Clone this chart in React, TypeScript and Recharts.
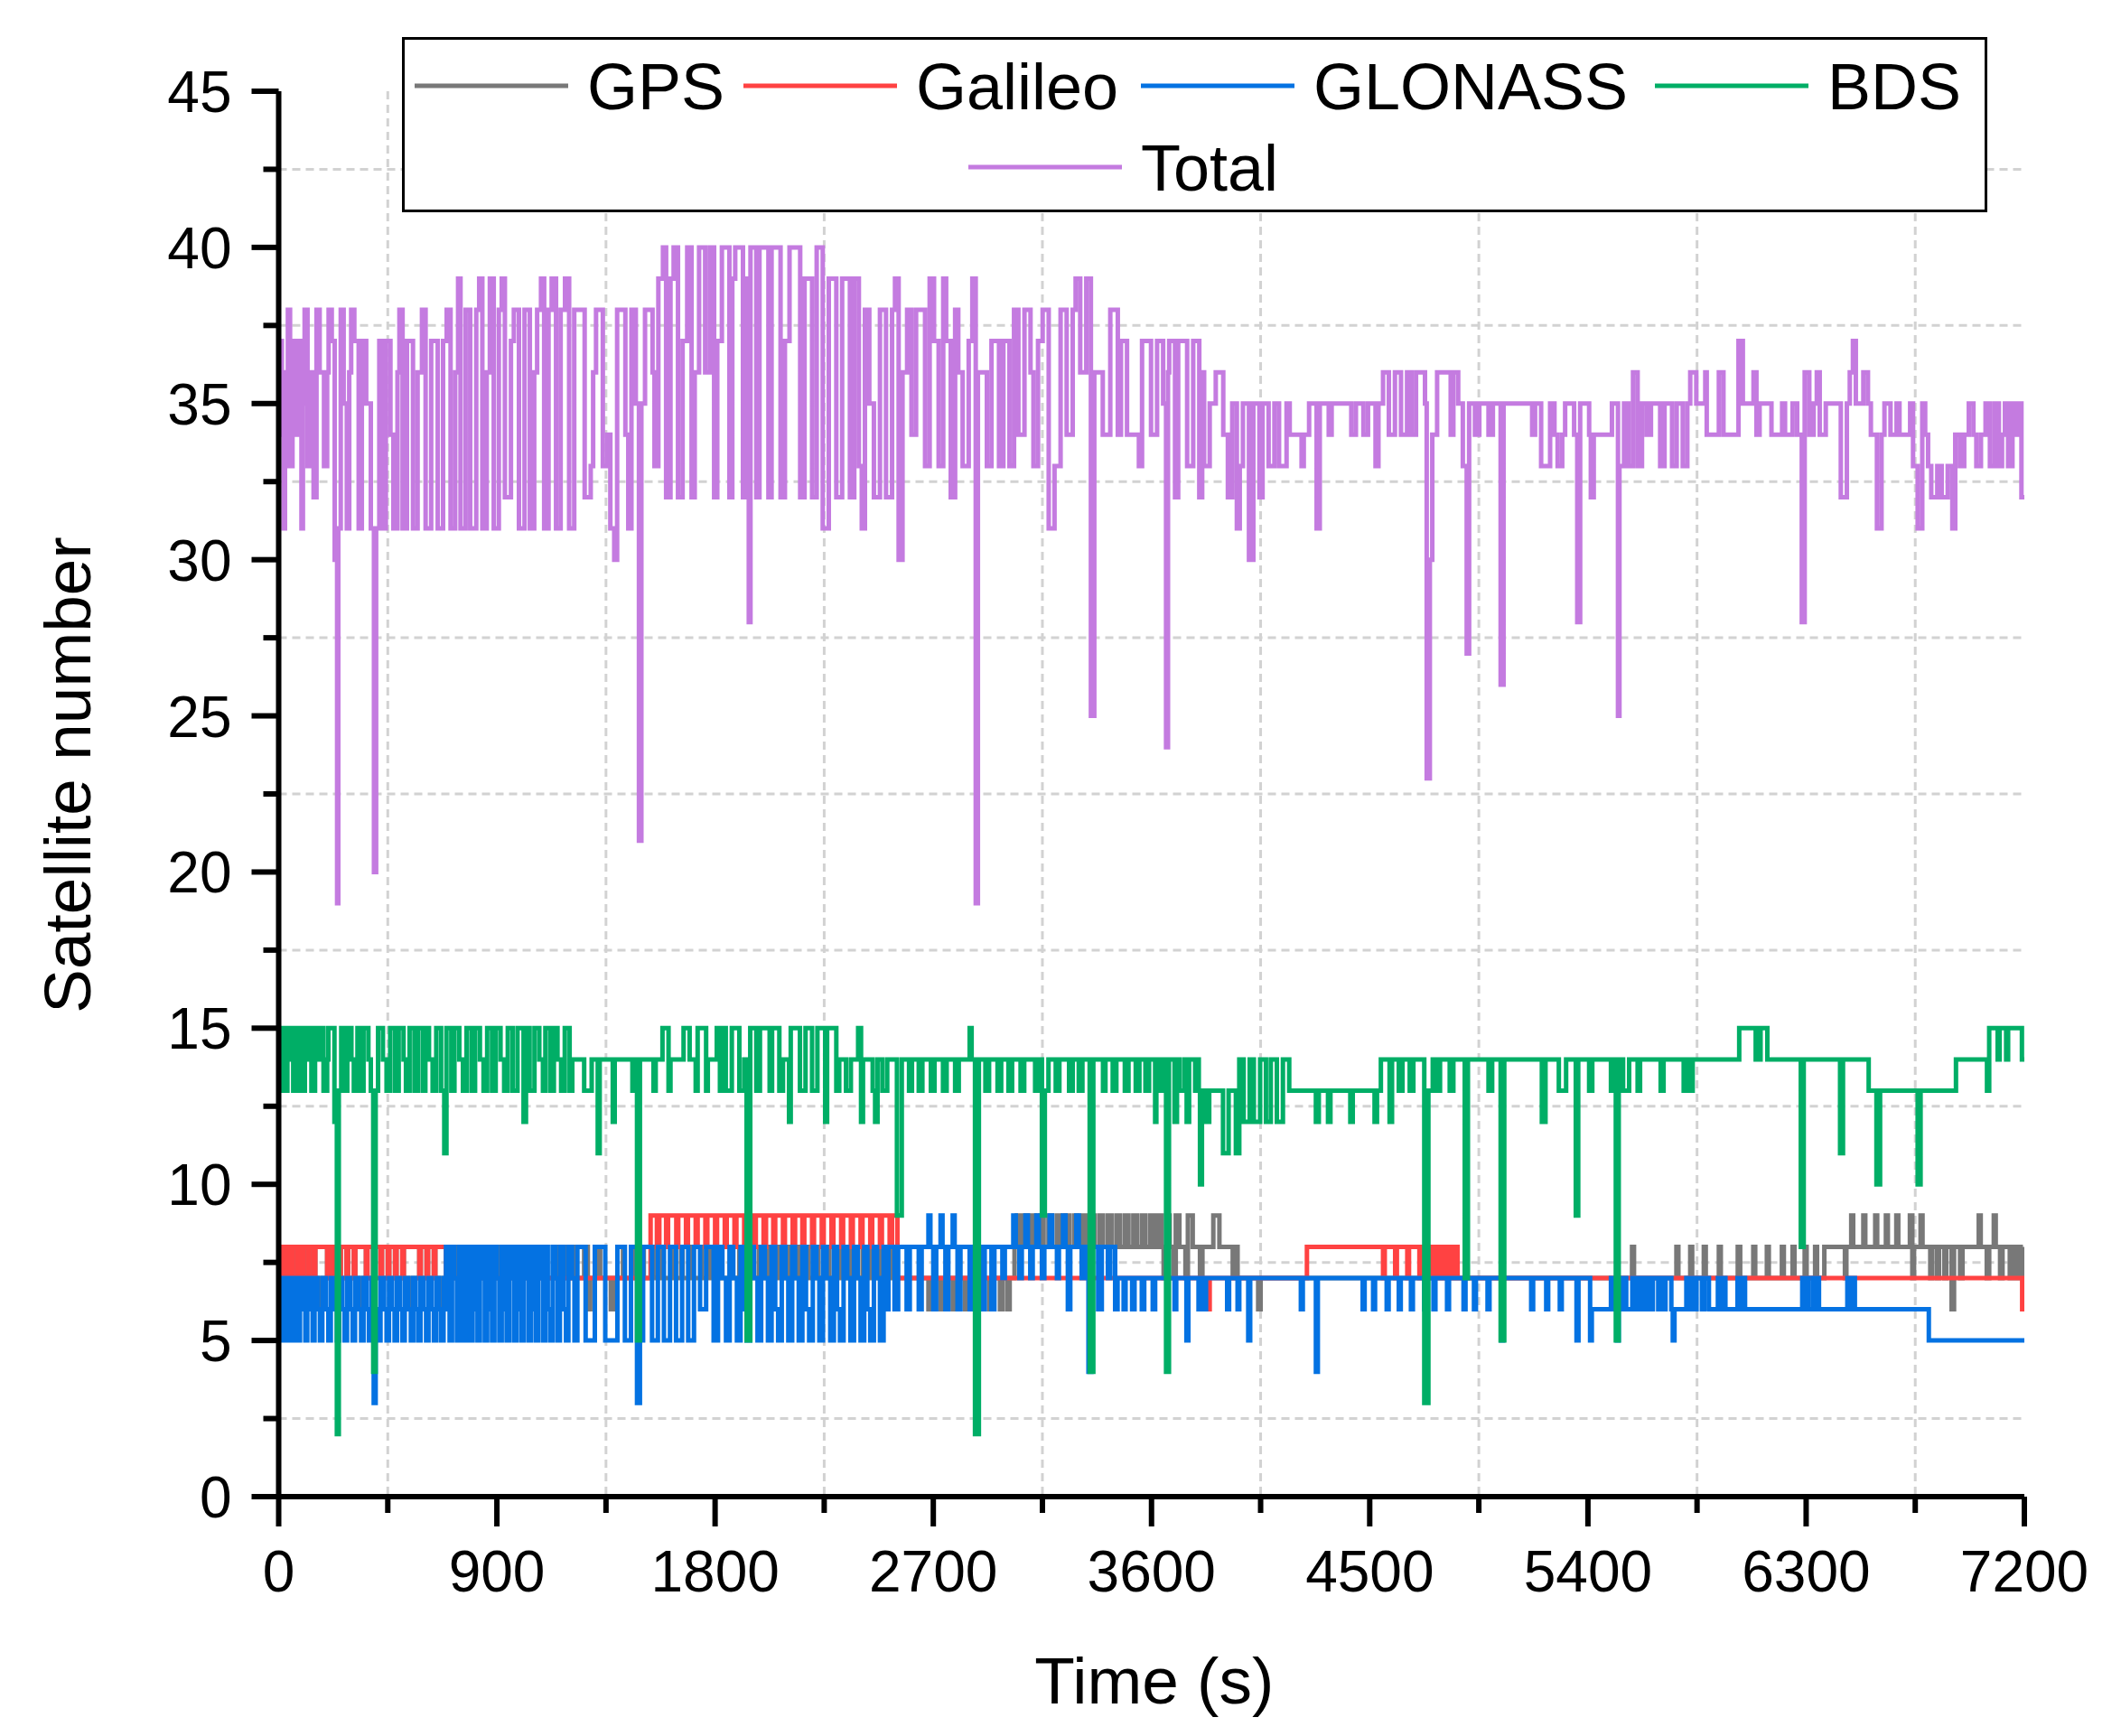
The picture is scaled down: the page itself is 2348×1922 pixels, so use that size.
import React from 'react';
import {
  LineChart,
  Line,
  XAxis,
  YAxis,
  CartesianGrid,
  Legend,
} from 'recharts';

const FONT = '"Liberation Sans", Arial, Helvetica, sans-serif';

const majorXTicks = [0, 900, 1800, 2700, 3600, 4500, 5400, 6300, 7200];
const minorXTicks = [450, 1350, 2250, 3150, 4050, 4950, 5850, 6750];
const majorYTicks = [0, 5, 10, 15, 20, 25, 30, 35, 40, 45];
const minorYTicks = [2.5, 7.5, 12.5, 17.5, 22.5, 27.5, 32.5, 37.5, 42.5];

// [time (s), satellites] change points
const gps: [number, number][] = [
  [0, 7], [10, 8], [16, 7], [30, 8], [36, 7], [50, 8], [56, 7], [75, 8], [81, 7], [95, 8], [101, 7],
  [120, 8], [126, 7], [145, 8], [151, 7], [175, 6], [182, 7], [200, 8], [206, 7], [225, 8], [231, 7],
  [250, 8], [256, 7], [280, 8], [286, 7], [310, 8], [316, 7], [335, 6], [342, 7], [360, 8], [366, 7],
  [390, 8], [396, 7], [420, 8], [426, 7], [450, 8], [456, 7], [480, 8], [486, 7], [510, 8], [516, 7],
  [550, 6], [558, 7], [580, 8], [586, 7], [610, 8], [616, 7], [640, 8], [646, 7], [665, 6], [672, 7],
  [700, 8], [706, 7], [740, 8], [746, 7], [780, 8], [786, 7], [820, 8], [826, 7], [860, 8], [866, 7],
  [900, 8], [906, 7], [940, 8], [946, 7], [980, 8], [986, 7], [1020, 8], [1026, 7], [1060, 8], [1066, 7],
  [1100, 8], [1106, 7], [1140, 8], [1146, 7], [1180, 8], [1186, 7], [1220, 8], [1226, 7], [1260, 8],
  [1275, 6], [1285, 7], [1320, 8], [1326, 7], [1370, 6], [1380, 7], [1420, 8], [1426, 7], [1460, 8],
  [1466, 7], [1500, 8], [1506, 7], [1540, 8], [1546, 7], [1580, 8], [1586, 7], [1620, 8], [1626, 7],
  [1660, 8], [1666, 7], [1700, 8], [1706, 7], [1740, 8], [1746, 7], [1780, 8], [1786, 7], [1820, 8],
  [1826, 7], [1860, 8], [1866, 7], [1900, 8], [1906, 7], [1940, 8], [1946, 7], [1980, 8], [1986, 7],
  [2020, 8], [2026, 7], [2060, 8], [2066, 7], [2100, 8], [2106, 7], [2140, 8], [2146, 7], [2180, 8],
  [2186, 7], [2220, 8], [2226, 7], [2260, 8], [2270, 7], [2290, 8], [2300, 7], [2320, 8], [2330, 7],
  [2350, 8], [2360, 7], [2380, 8], [2390, 7], [2410, 8], [2420, 7], [2440, 8], [2450, 7], [2470, 8],
  [2480, 7], [2500, 8], [2510, 7], [2530, 8], [2540, 7], [2680, 6], [2690, 7], [2730, 6], [2740, 7],
  [2780, 6], [2790, 7], [2830, 6], [2838, 7], [2880, 6], [2888, 7], [2930, 6], [2938, 7], [2975, 6],
  [2985, 7], [3005, 6], [3015, 7], [3035, 8], [3045, 9], [3060, 8], [3075, 9], [3090, 8], [3105, 9],
  [3120, 8], [3140, 9], [3155, 8], [3175, 9], [3190, 8], [3210, 9], [3225, 8], [3245, 9], [3260, 8],
  [3280, 9], [3295, 8], [3315, 9], [3330, 8], [3350, 9], [3365, 8], [3385, 9], [3400, 8], [3420, 9],
  [3435, 8], [3455, 9], [3470, 8], [3490, 9], [3505, 8], [3525, 9], [3540, 8], [3560, 9], [3575, 8],
  [3595, 9], [3610, 8], [3625, 9], [3640, 8], [3650, 7], [3660, 9], [3675, 8], [3690, 7], [3700, 9],
  [3715, 8], [3740, 7], [3750, 9], [3770, 8], [3800, 7], [3810, 8], [3855, 9], [3880, 8], [3935, 7],
  [3945, 8], [3955, 7], [4040, 6], [4050, 7], [5582, 8], [5590, 7], [5765, 8], [5773, 7], [5822, 8],
  [5830, 7], [5878, 8], [5886, 7], [5940, 8], [5948, 7], [6018, 8], [6028, 7], [6082, 8], [6090, 7],
  [6138, 8], [6146, 7], [6200, 8], [6208, 7], [6244, 8], [6252, 7], [6294, 8], [6302, 7], [6337, 8],
  [6345, 7], [6375, 8], [6460, 7], [6466, 8], [6486, 9], [6494, 8], [6536, 9], [6544, 8], [6585, 9],
  [6593, 8], [6629, 9], [6637, 8], [6672, 9], [6680, 8], [6728, 9], [6738, 7], [6745, 8], [6772, 9],
  [6780, 8], [6812, 7], [6820, 8], [6840, 7], [6848, 8], [6870, 7], [6878, 8], [6900, 6], [6910, 8],
  [6935, 7], [6945, 8], [7012, 9], [7020, 8], [7045, 7], [7055, 8], [7074, 9], [7082, 8], [7100, 7],
  [7110, 8], [7140, 7], [7148, 8], [7160, 7], [7170, 8], [7185, 7], [7200, 8],
];

const galileo: [number, number][] = [
  [0, 8], [10, 7], [16, 8], [30, 7], [36, 8], [50, 7], [56, 8], [75, 7], [81, 8], [95, 7], [101, 8],
  [120, 7], [126, 8], [145, 7], [151, 8], [200, 7], [206, 8], [225, 7], [231, 8], [250, 7], [256, 8],
  [280, 7], [286, 8], [310, 7], [316, 8], [360, 7], [366, 8], [390, 7], [396, 8], [420, 7], [426, 8],
  [450, 7], [456, 8], [480, 7], [486, 8], [510, 7], [516, 8], [580, 7], [586, 8], [610, 7], [616, 8],
  [640, 7], [646, 8], [690, 7], [1534, 9], [1560, 8], [1570, 9], [1598, 8], [1606, 9], [1640, 8],
  [1648, 9], [1680, 8], [1688, 9], [1720, 8], [1728, 9], [1760, 8], [1768, 9], [1800, 8], [1808, 9],
  [1840, 8], [1848, 9], [1880, 8], [1888, 9], [1920, 8], [1928, 9], [1960, 8], [1968, 9], [2000, 8],
  [2010, 9], [2040, 8], [2048, 9], [2080, 8], [2088, 9], [2120, 8], [2130, 9], [2160, 8], [2168, 9],
  [2200, 8], [2208, 9], [2240, 8], [2248, 9], [2280, 8], [2288, 9], [2320, 8], [2328, 9], [2360, 8],
  [2368, 9], [2400, 8], [2408, 9], [2440, 8], [2448, 9], [2480, 8], [2488, 9], [2520, 8], [2530, 9],
  [2552, 7], [3830, 6], [3840, 7], [4241, 8], [4555, 7], [4562, 8], [4605, 7], [4612, 8], [4655, 7],
  [4662, 8], [4705, 7], [4712, 8], [4740, 7], [4748, 8], [4765, 7], [4772, 8], [4790, 7], [4798, 8],
  [4815, 7], [4822, 8], [4840, 7], [4848, 8], [4862, 7], [7191, 6], [7200, 6],
];

const glonass: [number, number][] = [
  [0, 6], [8, 7], [15, 5], [22, 7], [30, 6], [38, 5], [45, 7], [55, 5], [62, 7], [70, 6], [80, 5],
  [88, 7], [100, 6], [110, 5], [118, 7], [130, 6], [140, 5], [148, 7], [160, 6], [170, 5], [180, 7],
  [195, 6], [205, 5], [215, 7], [228, 6], [240, 5], [250, 7], [262, 6], [272, 5], [282, 7], [295, 6],
  [305, 5], [315, 7], [330, 6], [340, 5], [350, 7], [362, 6], [372, 5], [382, 7], [392, 3], [400, 6],
  [410, 5], [420, 7], [435, 6], [445, 5], [455, 7], [468, 6], [478, 5], [488, 7], [500, 6], [510, 5],
  [520, 7], [535, 6], [545, 5], [555, 7], [565, 6], [575, 5], [585, 7], [598, 6], [608, 5], [618, 7],
  [630, 6], [640, 5], [650, 7], [660, 6], [670, 5], [680, 7], [690, 8], [698, 6], [705, 5], [715, 8],
  [725, 7], [735, 5], [745, 8], [755, 6], [762, 5], [772, 8], [782, 7], [790, 5], [800, 8], [812, 6],
  [820, 5], [830, 8], [842, 7], [850, 5], [860, 8], [872, 6], [880, 5], [890, 8], [900, 7], [910, 5],
  [920, 8], [932, 6], [940, 5], [950, 8], [962, 7], [970, 5], [980, 8], [992, 6], [1000, 5], [1010, 8],
  [1022, 7], [1030, 5], [1040, 8], [1052, 6], [1060, 5], [1070, 8], [1082, 7], [1090, 5], [1100, 8],
  [1110, 6], [1120, 5], [1130, 8], [1140, 7], [1150, 5], [1160, 8], [1175, 6], [1185, 5], [1195, 8],
  [1210, 7], [1220, 5], [1232, 8], [1266, 5], [1304, 8], [1347, 5], [1397, 8], [1428, 5], [1453, 8],
  [1478, 3], [1490, 5], [1503, 8], [1540, 5], [1564, 8], [1589, 5], [1614, 8], [1639, 5], [1664, 8],
  [1689, 5], [1713, 8], [1738, 6], [1763, 8], [1794, 5], [1812, 8], [1830, 7], [1845, 5], [1860, 8],
  [1875, 7], [1890, 5], [1905, 8], [1918, 6], [1930, 5], [1945, 8], [1960, 7], [1975, 5], [1990, 8],
  [2005, 7], [2018, 5], [2033, 8], [2048, 6], [2060, 5], [2075, 8], [2090, 7], [2102, 5], [2118, 8],
  [2130, 7], [2145, 5], [2160, 8], [2175, 6], [2188, 5], [2203, 8], [2218, 7], [2230, 5], [2245, 8],
  [2260, 7], [2275, 5], [2290, 8], [2303, 6], [2315, 5], [2330, 8], [2345, 7], [2358, 5], [2373, 8],
  [2388, 7], [2400, 5], [2415, 8], [2428, 6], [2440, 5], [2455, 8], [2468, 7], [2480, 5], [2495, 8],
  [2508, 6], [2515, 8], [2540, 6], [2555, 8], [2590, 6], [2603, 8], [2640, 6], [2652, 8], [2680, 9],
  [2688, 8], [2700, 6], [2712, 8], [2730, 9], [2738, 8], [2750, 6], [2762, 8], [2780, 9], [2788, 8],
  [2800, 6], [2812, 8], [2850, 6], [2862, 8], [2900, 6], [2912, 8], [2940, 6], [2952, 8], [2985, 7],
  [2995, 8], [3030, 9], [3040, 8], [3055, 7], [3065, 8], [3080, 9], [3090, 8], [3100, 7], [3110, 8],
  [3125, 9], [3135, 8], [3148, 7], [3158, 8], [3180, 9], [3190, 8], [3210, 7], [3218, 8], [3235, 9],
  [3245, 8], [3255, 6], [3265, 8], [3290, 9], [3300, 8], [3312, 7], [3322, 8], [3340, 4], [3352, 8],
  [3380, 6], [3395, 8], [3420, 7], [3430, 8], [3450, 6], [3460, 7], [3485, 6], [3493, 7], [3520, 6],
  [3530, 7], [3560, 6], [3570, 7], [3605, 6], [3615, 7], [3695, 6], [3702, 7], [3744, 5], [3752, 7],
  [3794, 6], [3800, 7], [3806, 6], [3812, 7], [3818, 6], [3825, 7], [3912, 6], [3920, 7], [3955, 6],
  [3962, 7], [3999, 5], [4007, 7], [4216, 6], [4224, 7], [4278, 4], [4286, 7], [4471, 6], [4479, 7],
  [4514, 6], [4522, 7], [4570, 6], [4578, 7], [4620, 6], [4628, 7], [4670, 6], [4678, 7], [4725, 6],
  [4733, 7], [4763, 6], [4771, 7], [4819, 6], [4827, 7], [4887, 6], [4895, 7], [4930, 6], [4938, 7],
  [4986, 6], [4994, 7], [5042, 5], [5050, 7], [5166, 6], [5174, 7], [5228, 6], [5236, 7], [5284, 6],
  [5292, 7], [5353, 5], [5361, 7], [5409, 5], [5416, 6], [5495, 7], [5503, 6], [5510, 7], [5520, 5],
  [5527, 7], [5540, 6], [5548, 7], [5558, 6], [5583, 7], [5590, 6], [5598, 7], [5610, 6], [5620, 7],
  [5635, 6], [5645, 7], [5660, 6], [5668, 7], [5690, 6], [5700, 7], [5712, 6], [5720, 7], [5744, 6],
  [5750, 5], [5757, 6], [5806, 7], [5815, 6], [5825, 7], [5840, 6], [5848, 7], [5870, 6], [5880, 7],
  [5899, 6], [5936, 7], [5948, 6], [5955, 7], [5967, 6], [6017, 7], [6030, 6], [6036, 7], [6048, 6],
  [6284, 7], [6292, 6], [6300, 7], [6309, 6], [6328, 7], [6340, 6], [6346, 7], [6353, 6], [6470, 7],
  [6480, 6], [6490, 7], [6501, 6], [6806, 5], [7200, 5],
];

const bds: [number, number][] = [
  [0, 14], [8, 15], [14, 13], [20, 15], [28, 13], [36, 15], [44, 14], [52, 15], [60, 13], [68, 15],
  [76, 14], [84, 13], [92, 15], [100, 13], [108, 15], [118, 14], [126, 15], [135, 13], [150, 15],
  [160, 14], [175, 15], [185, 13], [200, 14], [205, 15], [230, 12], [240, 2], [248, 13], [258, 15],
  [268, 13], [283, 15], [300, 14], [310, 13], [325, 15], [340, 13], [350, 15], [370, 14], [380, 13],
  [390, 4], [400, 13], [410, 15], [430, 14], [445, 13], [460, 15], [480, 13], [495, 15], [515, 14],
  [525, 13], [540, 15], [560, 13], [575, 15], [595, 13], [605, 15], [620, 14], [635, 13], [650, 15],
  [670, 13], [683, 11], [692, 15], [712, 13], [725, 15], [745, 14], [760, 13], [775, 15], [795, 13],
  [810, 15], [830, 14], [845, 13], [860, 15], [880, 13], [895, 15], [915, 14], [930, 13], [945, 15],
  [965, 13], [985, 15], [1010, 12], [1020, 15], [1035, 13], [1055, 15], [1075, 14], [1090, 13],
  [1100, 15], [1120, 13], [1135, 15], [1150, 14], [1165, 13], [1180, 15], [1200, 13], [1211, 14],
  [1260, 13], [1291, 14], [1316, 11], [1324, 14], [1378, 12], [1386, 14], [1459, 13], [1466, 14],
  [1478, 5], [1490, 14], [1546, 13], [1555, 14], [1583, 15], [1608, 13], [1616, 14], [1670, 15],
  [1695, 14], [1720, 13], [1728, 15], [1763, 13], [1770, 14], [1807, 15], [1820, 13], [1831, 15],
  [1844, 13], [1869, 15], [1900, 13], [1920, 14], [1930, 5], [1945, 15], [1970, 13], [1985, 15],
  [2025, 13], [2035, 15], [2065, 13], [2080, 14], [2105, 12], [2112, 15], [2150, 13], [2173, 15],
  [2200, 13], [2222, 15], [2254, 12], [2262, 15], [2300, 13], [2312, 14], [2340, 13], [2360, 14],
  [2390, 15], [2402, 12], [2410, 14], [2450, 13], [2460, 12], [2470, 14], [2490, 13], [2510, 14],
  [2550, 9], [2570, 14], [2600, 13], [2612, 14], [2640, 13], [2655, 14], [2690, 13], [2705, 14],
  [2740, 13], [2755, 14], [2790, 13], [2805, 14], [2850, 15], [2858, 14], [2872, 2], [2888, 14],
  [2915, 13], [2930, 14], [2965, 13], [2980, 14], [3010, 13], [3025, 14], [3060, 13], [3075, 14],
  [3120, 13], [3135, 14], [3148, 9], [3160, 13], [3175, 14], [3205, 13], [3220, 14], [3260, 13],
  [3275, 14], [3300, 13], [3315, 14], [3345, 4], [3360, 14], [3400, 13], [3410, 14], [3440, 13],
  [3455, 14], [3490, 13], [3505, 14], [3535, 13], [3550, 14], [3575, 13], [3590, 14], [3615, 12],
  [3620, 14], [3632, 13], [3645, 14], [3660, 4], [3672, 14], [3695, 12], [3705, 14], [3715, 13],
  [3735, 14], [3745, 12], [3755, 14], [3780, 13], [3790, 14], [3795, 13], [3800, 10], [3808, 13],
  [3825, 12], [3838, 13], [3895, 11], [3918, 13], [3948, 11], [3962, 14], [3980, 12], [4005, 14],
  [4022, 12], [4048, 14], [4072, 12], [4092, 14], [4117, 12], [4142, 14], [4168, 13], [4278, 12],
  [4290, 13], [4328, 12], [4338, 13], [4420, 12], [4430, 13], [4520, 12], [4530, 13], [4546, 14],
  [4582, 12], [4592, 14], [4620, 13], [4635, 14], [4665, 13], [4680, 14], [4725, 3], [4742, 13],
  [4760, 14], [4775, 13], [4790, 14], [4830, 13], [4845, 14], [4892, 7], [4905, 14], [4990, 13],
  [5005, 14], [5040, 5], [5055, 14], [5210, 12], [5225, 14], [5280, 13], [5310, 14], [5350, 9],
  [5360, 14], [5405, 13], [5418, 14], [5495, 13], [5505, 14], [5515, 5], [5527, 14], [5545, 13],
  [5570, 14], [5605, 13], [5615, 14], [5700, 13], [5712, 14], [5795, 13], [5808, 14], [5820, 13],
  [5832, 14], [6024, 15], [6092, 14], [6095, 15], [6100, 14], [6112, 15], [6140, 14], [6278, 8],
  [6290, 14], [6440, 11], [6452, 14], [6558, 13], [6590, 10], [6605, 13], [6760, 10], [6772, 13],
  [6918, 14], [7046, 13], [7055, 15], [7090, 14], [7098, 15], [7125, 14], [7133, 15], [7190, 14],
  [7200, 14],
];

const total: [number, number][] = [
  [0, 35], [7, 37], [13, 34], [20, 31], [26, 36], [32, 33], [38, 38], [47, 33], [57, 37], [70, 34],
  [82, 37], [94, 31], [100, 35], [107, 38], [119, 33], [132, 36], [144, 32], [156, 38], [169, 36],
  [187, 33], [200, 36], [206, 38], [219, 37], [231, 30], [241, 19], [246, 31], [256, 38], [268, 35],
  [281, 31], [291, 36], [299, 38], [312, 37], [330, 31], [343, 37], [361, 35], [380, 31], [393, 20],
  [402, 31], [415, 37], [427, 31], [442, 37], [461, 34], [473, 31], [490, 36], [498, 38], [511, 31],
  [529, 37], [554, 31], [573, 36], [591, 38], [606, 31], [629, 37], [656, 31], [678, 37], [693, 38],
  [709, 31], [728, 36], [740, 39], [750, 31], [771, 38], [790, 31], [815, 38], [827, 39], [840, 31],
  [858, 36], [871, 39], [887, 31], [908, 38], [920, 39], [933, 32], [958, 37], [970, 38], [991, 31],
  [1014, 38], [1036, 31], [1054, 36], [1066, 38], [1082, 39], [1095, 31], [1113, 38], [1126, 39],
  [1144, 31], [1163, 38], [1181, 39], [1198, 31], [1219, 38], [1262, 32], [1287, 33], [1297, 36],
  [1309, 38], [1337, 33], [1356, 34], [1368, 31], [1384, 30], [1396, 38], [1430, 34], [1442, 31],
  [1455, 38], [1473, 35], [1486, 21], [1496, 35], [1511, 38], [1542, 36], [1550, 33], [1566, 39],
  [1585, 40], [1598, 32], [1616, 39], [1629, 40], [1647, 32], [1666, 37], [1685, 40], [1703, 32],
  [1716, 36], [1734, 40], [1759, 36], [1778, 40], [1796, 32], [1809, 37], [1828, 40], [1859, 32],
  [1871, 39], [1883, 40], [1915, 32], [1927, 39], [1939, 28], [1946, 40], [1970, 32], [1983, 40],
  [2020, 32], [2033, 40], [2070, 32], [2088, 37], [2107, 40], [2151, 32], [2169, 39], [2200, 32],
  [2219, 40], [2244, 31], [2269, 39], [2300, 32], [2324, 39], [2356, 32], [2374, 39], [2393, 33],
  [2405, 31], [2418, 38], [2436, 35], [2455, 32], [2480, 38], [2505, 32], [2530, 38], [2542, 39],
  [2557, 30], [2573, 36], [2592, 38], [2610, 34], [2629, 38], [2666, 33], [2685, 39], [2703, 37],
  [2722, 33], [2741, 39], [2753, 37], [2772, 32], [2790, 38], [2803, 36], [2821, 33], [2846, 37],
  [2861, 39], [2875, 19], [2884, 36], [2921, 33], [2940, 37], [2971, 33], [2989, 37], [3014, 33],
  [3033, 38], [3051, 34], [3076, 38], [3101, 36], [3113, 33], [3132, 37], [3151, 38], [3176, 31],
  [3200, 33], [3225, 38], [3250, 34], [3275, 38], [3287, 39], [3306, 36], [3331, 39], [3350, 25],
  [3364, 36], [3399, 34], [3430, 38], [3461, 34], [3474, 37], [3499, 34], [3548, 33], [3561, 37],
  [3598, 34], [3623, 37], [3648, 35], [3660, 24], [3668, 36], [3673, 37], [3697, 32], [3710, 37],
  [3747, 33], [3772, 37], [3797, 32], [3809, 36], [3817, 33], [3840, 35], [3865, 36], [3896, 34],
  [3915, 32], [3933, 35], [3952, 31], [3964, 33], [3977, 35], [4002, 30], [4020, 35], [4045, 32],
  [4058, 35], [4083, 33], [4107, 35], [4126, 33], [4157, 35], [4170, 34], [4219, 33], [4228, 34],
  [4250, 35], [4281, 31], [4294, 35], [4331, 34], [4343, 35], [4424, 34], [4443, 35], [4474, 34],
  [4493, 35], [4524, 33], [4536, 35], [4555, 36], [4579, 34], [4604, 36], [4629, 34], [4654, 36],
  [4672, 34], [4691, 36], [4728, 35], [4735, 23], [4748, 30], [4758, 34], [4778, 36], [4834, 34],
  [4845, 36], [4865, 35], [4884, 33], [4900, 27], [4910, 35], [4934, 34], [4952, 35], [4990, 34],
  [5008, 35], [5040, 26], [5052, 35], [5170, 34], [5182, 35], [5207, 33], [5244, 35], [5262, 34],
  [5275, 33], [5294, 34], [5306, 35], [5343, 34], [5356, 28], [5368, 35], [5405, 34], [5412, 32],
  [5424, 34], [5499, 35], [5524, 25], [5530, 33], [5549, 35], [5567, 33], [5586, 36], [5605, 33],
  [5623, 35], [5642, 34], [5660, 35], [5698, 33], [5716, 35], [5747, 33], [5766, 35], [5791, 33],
  [5810, 35], [5822, 36], [5847, 35], [5884, 36], [5890, 34], [5940, 36], [5959, 34], [6021, 37],
  [6039, 35], [6083, 36], [6095, 34], [6108, 35], [6157, 34], [6201, 35], [6213, 34], [6244, 35],
  [6263, 34], [6282, 28], [6294, 36], [6313, 34], [6331, 35], [6344, 36], [6356, 34], [6381, 35],
  [6443, 32], [6468, 35], [6480, 36], [6493, 37], [6505, 35], [6536, 36], [6555, 35], [6567, 34],
  [6592, 31], [6611, 34], [6623, 35], [6648, 34], [6673, 35], [6685, 34], [6729, 35], [6741, 33],
  [6760, 31], [6779, 35], [6791, 34], [6803, 33], [6816, 32], [6841, 33], [6859, 32], [6884, 33],
  [6903, 31], [6915, 34], [6934, 33], [6952, 34], [6971, 35], [6990, 34], [7002, 33], [7021, 34],
  [7040, 35], [7058, 33], [7077, 35], [7095, 33], [7108, 34], [7120, 35], [7133, 33], [7151, 35],
  [7163, 34], [7176, 35], [7188, 32], [7200, 32],
];

const toRows = (pairs: [number, number][]) => pairs.map(([t, v]) => ({ t, v }));

const series = [
  { name: 'GPS', color: '#787878', rows: toRows(gps) },
  { name: 'Galileo', color: '#FF4242', rows: toRows(galileo) },
  { name: 'GLONASS', color: '#0472E2', rows: toRows(glonass) },
  { name: 'BDS', color: '#00AE66', rows: toRows(bds) },
  { name: 'Total', color: '#C47BE0', rows: toRows(total) },
];

// legend placement inside its box: [x of sample line, row]
const legendSlots: Record<string, [number, number]> = {
  GPS: [11, 0],
  Galileo: [375, 0],
  GLONASS: [815, 0],
  BDS: [1384, 0],
  Total: [624, 1],
};

const XTick = (props: any) => {
  const { x, y, payload } = props;
  const major = majorXTicks.includes(payload.value);
  return (
    <g>
      <line x1={x} x2={x} y1={y} y2={y + (major ? 33 : 18)} stroke="#000" strokeWidth={6} />
      {major && (
        <text x={x} y={y + 105} textAnchor="middle" fontSize={64} fontFamily={FONT} fill="#000">
          {payload.value}
        </text>
      )}
    </g>
  );
};

const YTick = (props: any) => {
  const { x, y, payload } = props;
  const major = majorYTicks.includes(payload.value);
  return (
    <g>
      <line x1={x - (major ? 30 : 17)} x2={x} y1={y} y2={y} stroke="#000" strokeWidth={6} />
      {major && (
        <text x={x - 52} y={y} dy="0.36em" textAnchor="end" fontSize={64} fontFamily={FONT} fill="#000">
          {payload.value}
        </text>
      )}
    </g>
  );
};

const LegendBox = () => (
  <div
    style={{
      width: 1755,
      height: 194,
      boxSizing: 'border-box',
      border: '3px solid #000',
      background: '#fff',
    }}
  >
    <svg width={1749} height={188} style={{ display: 'block' }}>
      {series.map((s) => {
        const [lx, row] = legendSlots[s.name];
        const cy = row === 0 ? 51 : 141;
        return (
          <g key={s.name}>
            <line x1={lx} x2={lx + 170} y1={cy} y2={cy} stroke={s.color} strokeWidth={5} />
            <text x={lx + 191} y={cy + 26} fontSize={72} fontFamily={FONT} fill="#000">
              {s.name}
            </text>
          </g>
        );
      })}
    </svg>
  </div>
);

const XTitle = (props: any) => {
  const { viewBox } = props;
  return (
    <text
      x={viewBox.x + viewBox.width / 2 + 3}
      y={viewBox.y + 229}
      textAnchor="middle"
      fontSize={73}
      fontFamily={FONT}
      fill="#000"
    >
      Time (s)
    </text>
  );
};

const YTitle = (props: any) => {
  const { viewBox } = props;
  const x = viewBox.x + 100;
  const y = viewBox.y + viewBox.height / 2 - 21;
  return (
    <text
      x={x}
      y={y}
      transform={`rotate(-90, ${x}, ${y})`}
      textAnchor="middle"
      fontSize={73}
      fontFamily={FONT}
      fill="#000"
    >
      Satellite number
    </text>
  );
};

const App = () => {
  return (
    <div style={{ position: 'absolute', left: 0, top: 0, width: 2348, height: 1922, background: '#fff' }}>
      <LineChart width={2348} height={1922} margin={{ top: 101, right: 107, bottom: 0, left: 0 }}>
        <CartesianGrid
          horizontalValues={minorYTicks}
          verticalValues={minorXTicks}
          stroke="#D2D2D2"
          strokeWidth={3}
          strokeDasharray="9 6"
        />
        <XAxis
          type="number"
          dataKey="t"
          domain={[0, 7200]}
          ticks={[...majorXTicks, ...minorXTicks].sort((a, b) => a - b)}
          interval={0}
          allowDataOverflow
          tick={(p: any) => <XTick {...p} />}
          tickLine={false}
          tickSize={0}
          tickMargin={0}
          axisLine={{ stroke: '#000', strokeWidth: 6 }}
          height={265}
          label={{ content: (p: any) => <XTitle {...p} /> }}
        />
        <YAxis
          type="number"
          domain={[0, 45]}
          ticks={[...majorYTicks, ...minorYTicks].sort((a, b) => a - b)}
          interval={0}
          allowDataOverflow
          tick={(p: any) => <YTick {...p} />}
          tickLine={false}
          tickSize={0}
          tickMargin={0}
          axisLine={{ stroke: '#000', strokeWidth: 6 }}
          width={308.5}
          label={{ content: (p: any) => <YTitle {...p} /> }}
        />
        <Legend
          layout="vertical"
          align="center"
          verticalAlign="middle"
          content={() => <LegendBox />}
          wrapperStyle={{ left: 445, top: 41, width: 1755, height: 194 }}
        />
        {series.map((s) => (
          <Line
            key={s.name}
            data={s.rows}
            dataKey="v"
            name={s.name}
            type="stepAfter"
            stroke={s.color}
            strokeWidth={5}
            dot={false}
            activeDot={false}
            isAnimationActive={false}
          />
        ))}
      </LineChart>
    </div>
  );
};

export default App;
